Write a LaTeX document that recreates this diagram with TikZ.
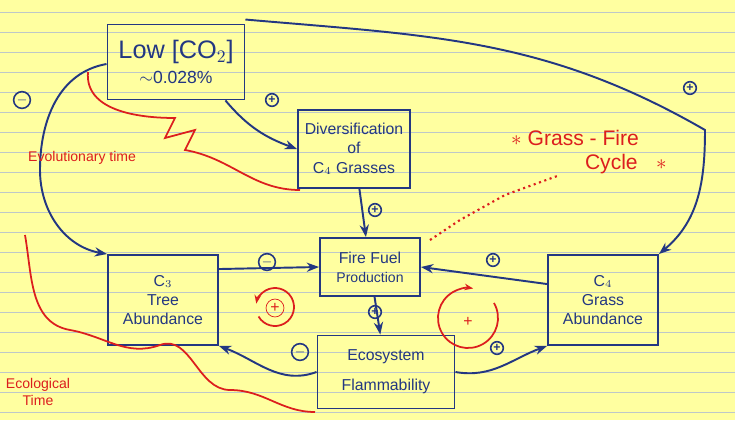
\documentclass[tikz,border=0pt]{standalone}
\usepackage{fontspec}
\setmainfont{Liberation Sans}
\usetikzlibrary{arrows.meta}
\definecolor{ink}{RGB}{35,55,130}
\definecolor{paper}{RGB}{255,255,160}
\definecolor{rule}{RGB}{190,200,200}
\definecolor{redink}{RGB}{220,30,30}
\begin{document}
\begin{tikzpicture}[x=0.02cm,y=-0.02cm,
  box/.style={draw=ink,line width=1.1pt,text=ink,align=center,inner sep=2pt},
  con/.style={draw=ink,line width=1.1pt,-{Stealth[length=7pt]}},
  sgn/.style={draw=ink,circle,line width=0.9pt,inner sep=0.5pt,text=ink,font=\scriptsize\bfseries},
  rtxt/.style={text=redink,font=\footnotesize},
  rcur/.style={draw=redink,line width=1pt}]
\fill[paper] (0,0) rectangle (735,420);
\useasboundingbox (0,0) rectangle (735,420);
\foreach \y in {12,32,...,412} \draw[rule,line width=0.4pt] (0,\y) -- (735,\y);
\node[box,minimum width=137*0.02cm,minimum height=75*0.02cm] (low) at (176,62) {\Large Low [CO$_2$]\\[2pt] $\sim$0.028\%};
\node[box,minimum width=112*0.02cm,minimum height=78*0.02cm,font=\small] (div) at (354,149) {Diversification\\of\\C$_4$ Grasses};
\node[box,minimum width=100*0.02cm,minimum height=58*0.02cm,font=\small] (ffp) at (370,267) {Fire Fuel\\{\footnotesize Production}};
\node[box,minimum width=110*0.02cm,minimum height=90*0.02cm,font=\small] (c3) at (163,300) {C$_3$\\Tree\\Abundance};
\node[box,minimum width=110*0.02cm,minimum height=90*0.02cm,font=\small] (c4) at (603,300) {C$_4$\\Grass\\Abundance};
\node[box,minimum width=137*0.02cm,minimum height=73*0.02cm,font=\small] (eco) at (386,372) {Ecosystem\\[6pt]Flammability};
\draw[con] (low.south east) ++(-20,0) to[out=-50,in=160] (div.west);
\draw[con] (low.west) ++(0,2) to[out=190,in=90] (40,170) to[out=-90,in=170] (c3.north west);
\draw[con] (low.north east) ++(0,-4) to[out=-5,in=150] (705,130) to[out=-90,in=40] (c4.north east);
\draw[con] (div) -- (ffp);
\draw[con] (c3.north east) ++(0,15) -- (ffp.west);
\draw[con] (c4.north west) ++(0,30) -- (ffp.east);
\draw[con] (ffp) -- (eco);
\draw[con] (eco.west) to[out=200,in=-20] (c3.south east);
\draw[con] (eco.east) to[out=-10,in=200] (c4.south west);
\node[sgn] at (272,100) {+};
\node[sgn] at (22,100) {$-$};
\node[sgn] at (690,88) {+};
\node[sgn] at (375,210) {+};
\node[sgn] at (267,262) {$-$};
\node[sgn] at (493,260) {+};
\node[sgn] at (375,312) {+};
\node[sgn] at (300,352) {$-$};
\node[sgn] at (497,348) {+};
% red annotations
\node[rtxt,anchor=west] (evo) at (22,158) {Evolutionary time};
\draw[rcur] (88,72) to[out=-95,in=180] (175,118) -- (165,138) -- (195,130) -- (185,150) to[out=-10,in=180] (300,190);
\node[rtxt,align=center] (eco2) at (38,392) {Ecological\\Time};
\draw[rcur] (25,235) to[out=-80,in=170] (70,330) to[out=-10,in=200] (160,345) to[out=20,in=180] (230,390) to[out=0,in=180] (315,412);
\node[text=redink,font=\large,align=left,anchor=west] (gf) at (505,152) {$\ast$ Grass - Fire\\\hspace{3.5em}Cycle \hspace{0.6em}$\ast$};
\draw[redink,line width=1.2pt,dotted] (430,240) -- (460,220) -- (505,195) -- (560,175);
\draw[rcur,-{Stealth[length=5pt]}] (275,307) ++(150:19) arc (150:-170:19);
\node[text=redink,circle,draw=redink,inner sep=1pt,font=\small] at (275,308) {+};
\draw[rcur,-{Stealth[length=5pt]}] (468,318) ++(-30:30) arc (-30:280:30);
\node[text=redink,font=\small] at (468,322) {+};
\end{tikzpicture}
\end{document}
